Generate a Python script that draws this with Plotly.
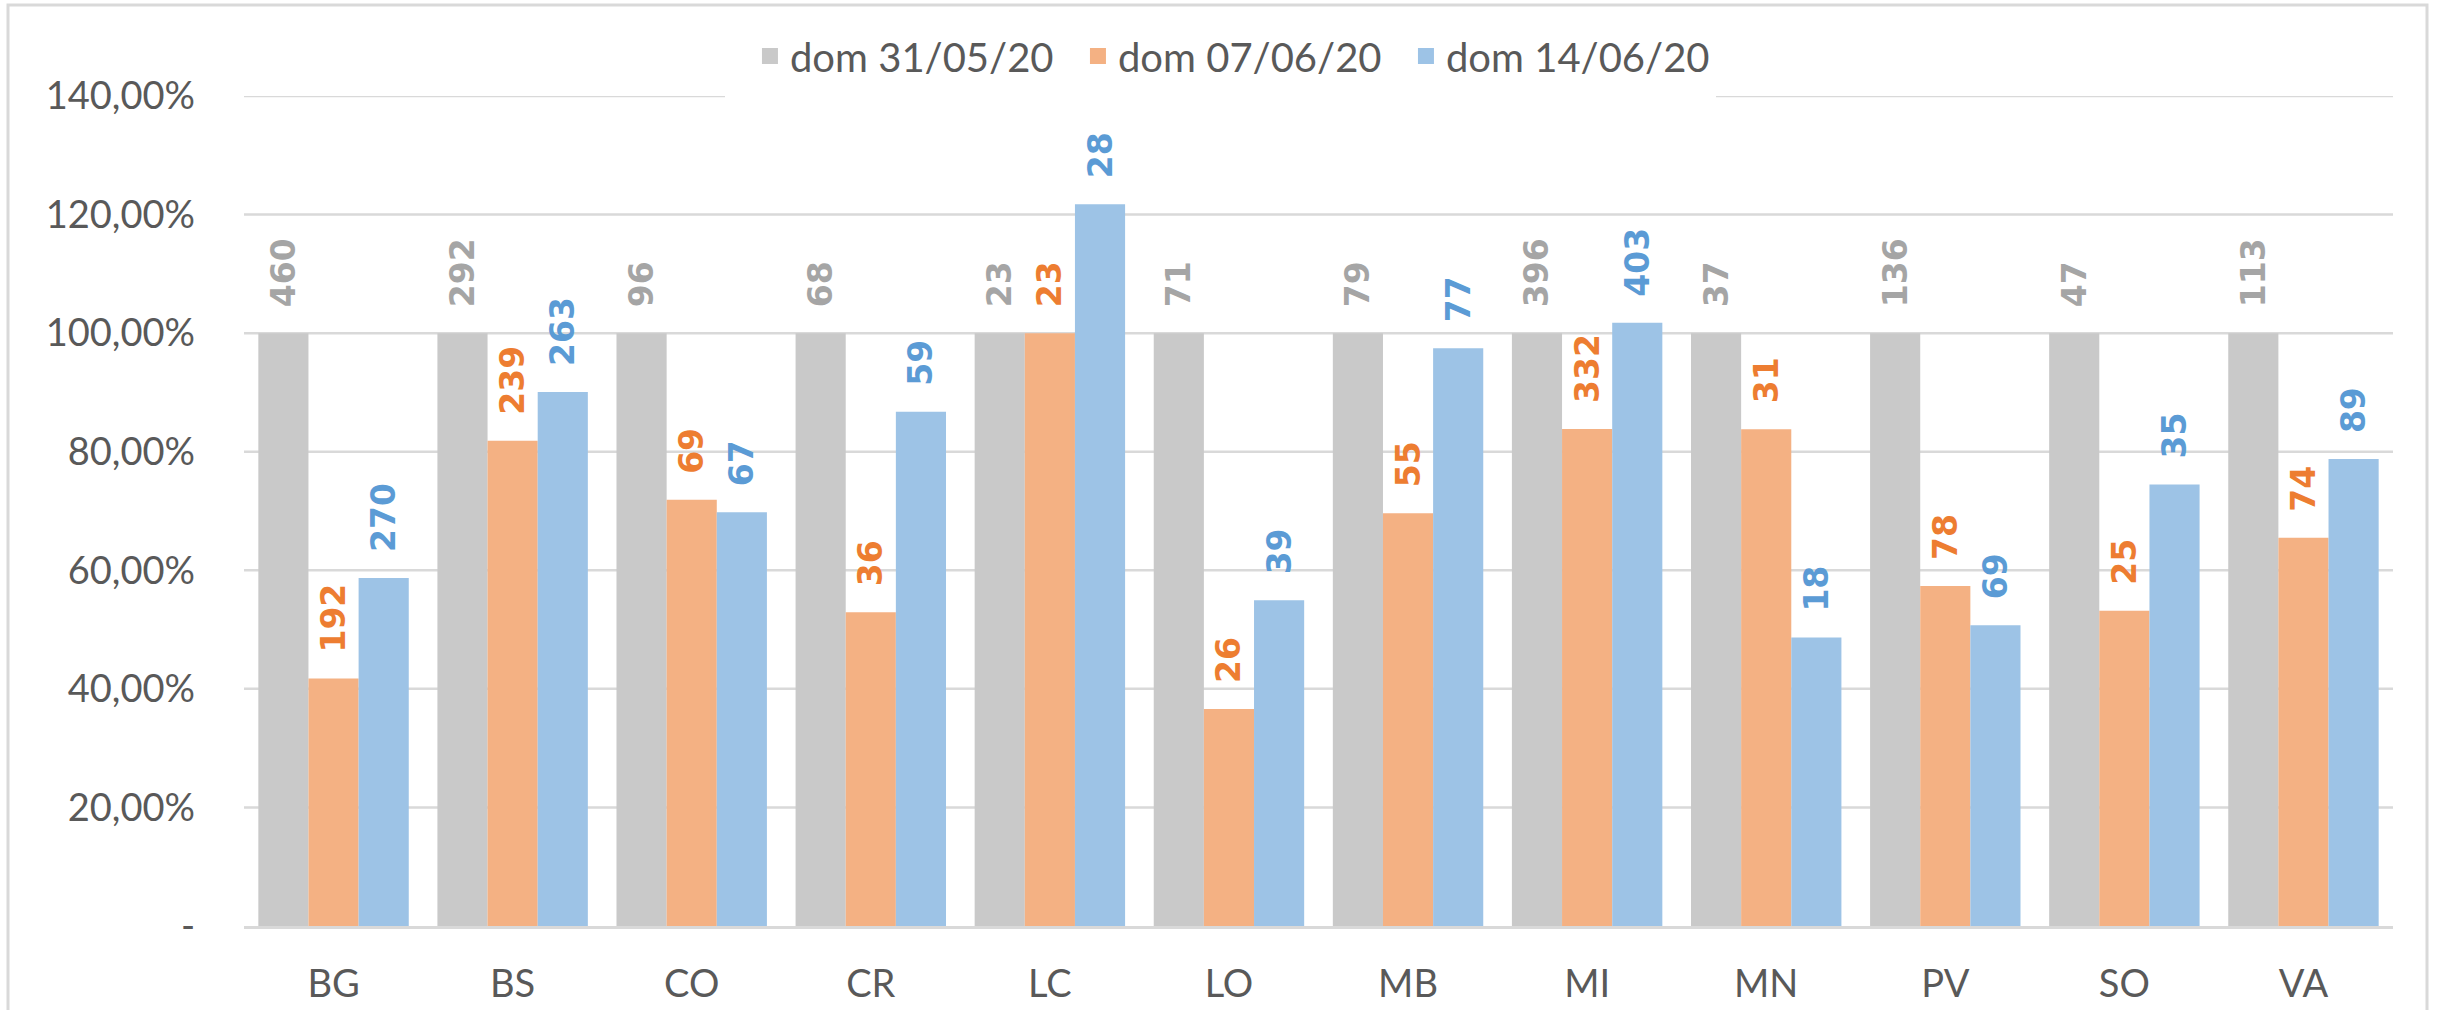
import plotly.graph_objects as go

categories = ["BG", "BS", "CO", "CR", "LC", "LO", "MB", "MI", "MN", "PV", "SO", "VA"]
series_names = ["dom 31/05/20", "dom 07/06/20", "dom 14/06/20"]

# bar heights (share of the 31/05 count)
pct_3105 = [1.0, 1.0, 1.0, 1.0, 1.0, 1.0, 1.0, 1.0, 1.0, 1.0, 1.0, 1.0]
pct_0706 = [0.4174, 0.8185, 0.7188, 0.5294, 1.0, 0.3662, 0.6962, 0.8384, 0.8378, 0.5735, 0.5319, 0.6549]
pct_1406 = [0.5870, 0.9007, 0.6979, 0.8676, 1.2174, 0.5493, 0.9747, 1.0177, 0.4865, 0.5074, 0.7447, 0.7876]

# data labels (counts)
cnt_3105 = [460, 292, 96, 68, 23, 71, 79, 396, 37, 136, 47, 113]
cnt_0706 = [192, 239, 69, 36, 23, 26, 55, 332, 31, 78, 25, 74]
cnt_1406 = [270, 263, 67, 59, 28, 39, 77, 403, 18, 69, 35, 89]

y_tickvals = [0, 0.2, 0.4, 0.6, 0.8, 1.0, 1.2, 1.4]
y_ticktext = ["-", "20,00%", "40,00%", "60,00%", "80,00%", "100,00%", "120,00%", "140,00%"]

bar_colors = ["#C9C9C9", "#F4B183", "#9DC3E6"]
label_colors = ["#A5A5A5", "#ED7D31", "#5B9BD5"]
GRID = "#D9D9D9"

W, H = 2440, 1010
ML, MR, MT, MB = 244, 47, 96, 84

NB = "\u00a0"
fig = go.Figure()
for name, vals, cnts, bc, lc in zip(series_names, [pct_3105, pct_0706, pct_1406],
                                    [cnt_3105, cnt_0706, cnt_1406], bar_colors, label_colors):
    fig.add_trace(go.Bar(
        x=categories, y=vals, name=name,
        marker=dict(color=bc, line=dict(width=0)),
        text=[NB * 2 + str(c) for c in cnts],
        textposition="outside", textangle=-90, constraintext="none",
        textfont=dict(family="DejaVu Sans", size=33, color=lc, weight="bold"),
        cliponaxis=False, showlegend=False, hoverinfo="skip",
    ))

for name, bc in zip(series_names, bar_colors):
    fig.add_trace(go.Scatter(
        x=[None], y=[None], mode="markers", name=name,
        marker=dict(symbol="square", size=16, color=bc),
    ))

pw = W - ML - MR
ph = H - MT - MB
# outer chart border
fig.add_shape(type="rect", xref="paper", yref="paper",
              x0=(8 - ML) / pw, x1=(2427 - ML) / pw,
              y0=(H - MB - 1015) / ph, y1=(H - MB - 5) / ph,
              line=dict(color=GRID, width=3), fillcolor="rgba(0,0,0,0)", layer="below")

# horizontal gridlines at the tick values; the top one is interrupted by the legend
gap_x0, gap_x1 = (725 - ML) / pw, (1716 - ML) / pw
top = max(y_tickvals)
for v in y_tickvals[1:]:
    segs = [(0, gap_x0), (gap_x1, 1)] if v == top else [(0, 1)]
    for a, b in segs:
        fig.add_shape(type="line", xref="paper", yref="y", x0=a, x1=b, y0=v, y1=v,
                      line=dict(color=GRID, width=2.5), layer="below")

fig.update_layout(
    width=W, height=H,
    margin=dict(l=ML, r=MR, t=MT, b=MB, autoexpand=False),
    paper_bgcolor="white", plot_bgcolor="white",
    barmode="group", bargap=0.16, bargroupgap=0,
    font=dict(family="Lato", size=38, color="#595959"),
    legend=dict(
        orientation="h", xref="container", yref="container",
        x=0.509, xanchor="center", y=0.9446, yanchor="middle",
        bgcolor="rgba(0,0,0,0)", borderwidth=0,
        font=dict(family="Lato", size=40, color="#595959"),
        itemwidth=30, traceorder="normal",
        entrywidth=283, entrywidthmode="pixels",
    ),
    xaxis=dict(
        type="category", showgrid=False, showline=True, linecolor=GRID, linewidth=3,
        ticks="", tickfont=dict(family="Lato", size=38, color="#595959"),
        ticklabelstandoff=22, zeroline=False,
    ),
    yaxis=dict(
        range=[0, 1.4], tickvals=y_tickvals, ticktext=y_ticktext,
        showgrid=False, zeroline=False, showline=False,
        ticks="", tickfont=dict(family="Lato", size=38, color="#595959"),
        ticklabelstandoff=48,
    ),
)

fig.write_html("out.html", config={"displayModeBar": False},
               post_script="document.body.style.margin='0';document.body.style.overflow='hidden';")
